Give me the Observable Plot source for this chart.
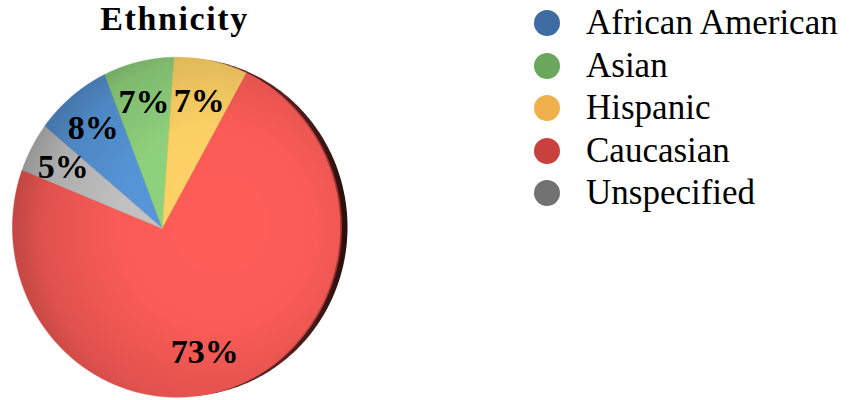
<!DOCTYPE html>
<html>
<head>
<meta charset="utf-8">
<script src="https://cdn.jsdelivr.net/npm/d3@7"></script>
<script src="https://cdn.jsdelivr.net/npm/@observablehq/plot@0.6"></script>
<style>
  html, body { margin: 0; padding: 0; background: #fff; }
  #wrap { position: relative; width: 851px; height: 400px; overflow: hidden; font-family: "Liberation Serif", serif; }
  #title { position: absolute; left: 0; top: 0; width: 349px; text-align: center; font-weight: bold; font-size: 34px; line-height: 38px; letter-spacing: 1.6px; color: #000; }
  #chart { position: absolute; left: 0; top: 36px; }
  #legend { position: absolute; left: 534px; top: 2px; }
  .row { display: flex; align-items: center; height: 42.5px; }
  .sw { width: 26px; height: 26px; border-radius: 50%; margin-right: 26px; flex: none; }
  .lab { font-size: 35px; line-height: 42.5px; color: #000; white-space: nowrap; }
</style>
</head>
<body>
<div id="wrap">
  <div id="title">Ethnicity</div>
  <div id="chart"></div>
  <div id="legend"></div>
</div>
<script>
// ---- data ----
const categories = ["African American", "Asian", "Hispanic", "Caucasian", "Unspecified"];
const values = [8, 7, 7, 73, 5];
const legendColors = ["#3e6ba2", "#6aa65b", "#f0b04c", "#c9413d", "#727272"];
const sliceColors = ["#5797da", "#90d47e", "#ffd366", "#ff5d58", "#c4c4c4"];

// ---- layout constants (style) ----
const W = 360, H = 364;
const CX = 176.5, CY = 190.7, RX = 164.5, RY = 170;   // face ellipse in svg px
const APEX = [-0.088, -0.0076];                        // 3D perspective apex (unit space)
const START = -50 * Math.PI / 180;
const RIM_DX = 6 / RX;

function rayPoint(theta) {
  const dx = Math.sin(theta), dy = Math.cos(theta);
  const b = APEX[0] * dx + APEX[1] * dy;
  const c = APEX[0] ** 2 + APEX[1] ** 2 - 1;
  const t = -b + Math.sqrt(b * b - c);
  return {x: APEX[0] + t * dx, y: APEX[1] + t * dy, t, dx, dy};
}

const data = categories.map((name, i) => ({name, value: values[i]}));
const arcs = d3.pie().sort(null).value(d => d.value).startAngle(START).endAngle(START + 2 * Math.PI)(data);

const slicePts = [];
const labelPts = [];
for (const a of arcs) {
  const n = Math.max(2, Math.ceil((a.endAngle - a.startAngle) * 180 / Math.PI));
  slicePts.push({name: a.data.name, x: APEX[0], y: APEX[1]});
  for (let k = 0; k <= n; k++) {
    const p = rayPoint(a.startAngle + (a.endAngle - a.startAngle) * k / n);
    slicePts.push({name: a.data.name, x: p.x, y: p.y});
  }
  slicePts.push({name: a.data.name, x: APEX[0], y: APEX[1]});
  const m = rayPoint((a.startAngle + a.endAngle) / 2);
  const f = 0.76 * m.t;
  labelPts.push({x: APEX[0] + f * m.dx, y: APEX[1] + f * m.dy, text: a.data.value + "%"});
}

const facePts = [], rimPts = [];
for (let k = 0; k <= 360; k++) {
  const t = k * Math.PI / 180;
  facePts.push({x: Math.cos(t), y: Math.sin(t)});
  rimPts.push({x: Math.cos(t) + RIM_DX, y: Math.sin(t) * 0.995});
}

const chart = Plot.plot({
  width: W, height: H, margin: 0,
  style: {background: "transparent", overflow: "visible"},
  x: {domain: [(0 - CX) / RX, (W - CX) / RX], axis: null},
  y: {domain: [-(H - CY) / RY, CY / RY], axis: null},
  color: {domain: categories, range: sliceColors},
  marks: [
    Plot.line(rimPts, {x: "x", y: "y", fill: "url(#rimGrad)", stroke: "none"}),
    Plot.line(slicePts, {x: "x", y: "y", z: "name", fill: "name", stroke: "name", strokeWidth: 0.6, strokeLinejoin: "round"}),
    Plot.line(facePts, {x: "x", y: "y", fill: "url(#shade)", stroke: "none"}),
    Plot.line(facePts, {x: "x", y: "y", fill: "none", stroke: "url(#edge)", strokeWidth: 2.5}),
    Plot.text(labelPts, {x: "x", y: "y", text: "text", fill: "#000", fontSize: 34, fontWeight: "bold", fontFamily: "Liberation Serif"})
  ]
});
chart.insertAdjacentHTML("afterbegin", `<defs>
  <radialGradient id="shade" cx="0.6" cy="0.52" r="0.6" fx="0.64" fy="0.48">
    <stop offset="0" stop-color="#000" stop-opacity="0"/>
    <stop offset="0.5" stop-color="#000" stop-opacity="0.02"/>
    <stop offset="0.85" stop-color="#000" stop-opacity="0.12"/>
    <stop offset="1" stop-color="#000" stop-opacity="0.24"/>
  </radialGradient>
  <linearGradient id="rimGrad" x1="0" y1="0" x2="1" y2="0">
    <stop offset="0.8" stop-color="#5a2220"/>
    <stop offset="1" stop-color="#2a0e0d"/>
  </linearGradient>
  <linearGradient id="edge" x1="0" y1="0" x2="1" y2="0">
    <stop offset="0" stop-color="#000" stop-opacity="0"/>
    <stop offset="0.8" stop-color="#000" stop-opacity="0"/>
    <stop offset="1" stop-color="#5a1a18" stop-opacity="0.55"/>
  </linearGradient>
</defs>`);
document.getElementById("chart").appendChild(chart);

const legend = document.getElementById("legend");
categories.forEach((c, i) => {
  const row = document.createElement("div");
  row.className = "row";
  const sw = document.createElement("span");
  sw.className = "sw";
  sw.style.background = legendColors[i];
  const lab = document.createElement("span");
  lab.className = "lab";
  lab.textContent = c;
  row.append(sw, lab);
  legend.appendChild(row);
});
</script>
</body>
</html>
